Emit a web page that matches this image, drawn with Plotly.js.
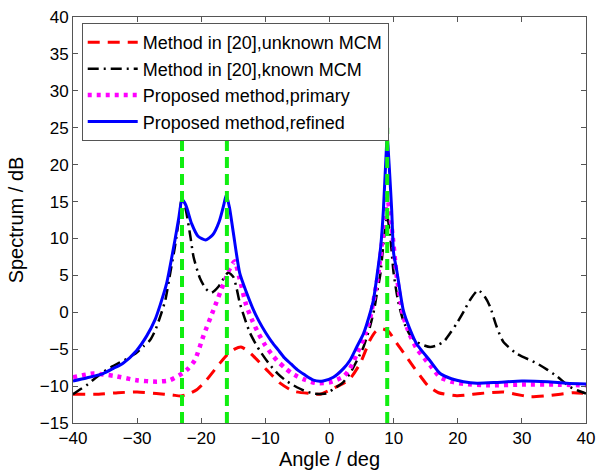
<!DOCTYPE html>
<html>
<head>
<meta charset="utf-8">
<script src="https://cdn.plot.ly/plotly-3.0.1.min.js"></script>
<style>html,body{margin:0;padding:0;background:#fff;}#chart{width:598px;height:471px;}</style>
</head>
<body>
<div id="chart"></div>
<script>
// ---- Data ----
const seriesNames = [
  "Method in [20],unknown MCM",
  "Method in [20],known MCM",
  "Proposed method,primary",
  "Proposed method,refined"
];

const unknownX = [-40,-36,-33,-30,-27,-24.5,-23.2,-21.8,-20.7,-19.2,-17.1,-16,-14.8,-13.8,-12.8,-11.9,-9.8,-7.7,-5.6,-3.0,-1.5,0.6,2.0,3.2,4.8,6.3,7.2,7.9,8.5,9.2,10.5,11.8,13.1,14.3,15.4,17,19.85,21.5,23.5,27.1,29,31.3,34,36,38,40];
const unknownY = [-11.1,-11.1,-10.9,-10.8,-11.0,-11.2,-11.35,-11.0,-10.5,-9.2,-6.9,-5.8,-5.0,-4.7,-5.2,-5.9,-7.8,-9.6,-10.7,-11.0,-11.1,-10.3,-9.7,-9.0,-6.9,-3.8,-2.6,-2.2,-2.3,-2.6,-4.2,-5.8,-7.4,-8.8,-10.0,-10.9,-11.3,-11.2,-11.0,-10.8,-11.1,-11.45,-11.3,-11.1,-10.9,-11.0];

const knownX = [-40,-38.8,-37.9,-36.5,-35.3,-34,-32.7,-31.4,-30.1,-29,-28,-27.2,-26.4,-25.6,-24.8,-24.1,-23.5,-23,-22.6,-22.3,-21.7,-21.2,-20.2,-19.3,-18.4,-17.3,-16.5,-15.8,-15,-14.5,-14,-13.2,-12.4,-11.5,-10.8,-9.5,-8.2,-6.9,-5.6,-4,-2.5,-0.5,0.6,2.0,3.2,4.3,5.3,6.3,7.0,7.4,7.9,8.5,9,9.5,10.0,10.7,11.5,12.5,13.6,14.8,15.7,16.7,17.8,19,19.85,21,21.9,23.2,24.3,25.05,26,27.1,29.2,32.3,34,35.5,37.5,39,40];
const knownY = [-11.1,-10.4,-9.9,-8.9,-8.1,-7.4,-6.8,-6.2,-5.5,-4.6,-3.8,-2.5,-0.6,1.65,5.5,8.9,12.5,15.6,14.6,13.4,10.3,7.5,4.6,3.2,2.65,3.5,4.6,5.4,4.8,3.3,1.3,-0.9,-2.8,-4.3,-5.3,-6.9,-8.2,-9.2,-9.9,-10.6,-11.0,-11.0,-10.4,-9.6,-8.3,-6.5,-4.7,-2.0,0.5,2.6,5.0,10.0,13.0,10.0,5.3,1.5,-1.1,-3.0,-4.0,-4.5,-4.7,-4.5,-4.0,-2.6,-1.5,0.2,1.65,3.0,2.0,0.75,-1.8,-4.0,-5.6,-6.9,-7.8,-8.7,-10.1,-10.7,-11.0];

const primaryX = [-40,-36.8,-33.7,-30.1,-26.9,-24.9,-23,-22,-21,-19.7,-18.1,-16.5,-15.5,-14.8,-14,-13,-12,-11,-10,-9,-8,-7,-6,-5,-4,-2,0,2.2,3.2,4.3,5.3,6.3,7.6,8.4,9,9.7,10.5,11.5,12.5,13.6,15.7,17.25,19,20.9,25,30,35,40];
const primaryY = [-8.8,-8.3,-8.6,-9.2,-9.4,-9.2,-8.3,-7.6,-6.5,-3.3,0.3,3.9,6.0,6.9,4.5,1.0,-1.2,-3.0,-4.5,-5.7,-6.7,-7.5,-8.2,-8.7,-9.1,-9.6,-9.5,-8.7,-7.6,-5.6,-3.6,-0.9,5.2,11,15.5,11.5,4.8,-0.5,-3.0,-4.9,-7.2,-8.8,-9.4,-9.7,-9.9,-9.8,-9.8,-9.9];

const refinedX = [-40,-37.9,-35.3,-33.7,-32.2,-30.1,-28.5,-27.2,-26.4,-25.4,-24.1,-23.5,-23,-22.4,-21.5,-20.5,-19.3,-18.2,-17.2,-16.5,-16.1,-15.6,-15,-14,-13,-12,-11,-10,-9,-8,-7,-6,-5,-4,-2.5,-1,0.6,2.2,3.2,4.25,5.3,6.3,6.85,7.6,8.0,8.4,8.75,9,9.3,9.7,10.0,10.5,11.5,12.5,13.6,15.7,17.25,19,20.9,23,26,30,34,37,40];
const refinedY = [-9.3,-8.9,-8.3,-7.6,-6.9,-5.2,-3.2,-1.0,1.0,3.9,9.8,12.8,15.3,14.5,12.0,10.3,9.8,10.5,12.3,14.5,15.9,14.2,10.8,5.3,2.8,0.6,-1.2,-2.7,-4.0,-5.1,-6.2,-7.0,-7.8,-8.4,-9.2,-9.3,-8.8,-7.6,-6.5,-4.7,-2.9,-0.2,1.65,6.2,9.0,13.8,20,23.7,20,13.8,8.0,5.6,0.3,-2.2,-4.3,-6.6,-8.3,-9.0,-9.4,-9.6,-9.5,-9.3,-9.4,-9.6,-9.7];

// true directions (green dashed markers) and their vertical extent
const trueDOA = [-23, -16, 9];
const trueLineSpan = [-15, 25];

// ---- Traces ----
const font = "Liberation Sans, Arial, Helvetica, sans-serif";
const traces = [
  {x: unknownX, y: unknownY, name: seriesNames[0], mode: "lines",
   line: {color: "#ff0000", width: 3, dash: "12px,8px", shape: "spline", smoothing: 0.6}},
  {x: knownX, y: knownY, name: seriesNames[1], mode: "lines",
   line: {color: "#000000", width: 2.5, dash: "11px,5px,2px,5px", shape: "spline", smoothing: 0.6}},
  {x: primaryX, y: primaryY, name: seriesNames[2], mode: "lines",
   line: {color: "#ff00ff", width: 4.5, dash: "4px,5px", shape: "spline", smoothing: 0.6}},
  {x: refinedX, y: refinedY, name: seriesNames[3], mode: "lines",
   line: {color: "#0000ff", width: 3, shape: "spline", smoothing: 0.6}}
];
trueDOA.forEach(function (d) {
  traces.push({x: [d, d], y: trueLineSpan, mode: "lines", showlegend: false,
    line: {color: "#11ee11", width: 4, dash: "11px,6px"}});
});

const axisCommon = {
  showline: true, mirror: "ticks", linecolor: "#555", linewidth: 1,
  ticks: "inside", ticklen: 5, tickcolor: "#555", showgrid: false, zeroline: false,
  tickfont: {family: font, size: 17, color: "#000"}
};

const layout = {
  width: 598, height: 471,
  margin: {l: 73, r: 12, t: 17, b: 48},
  paper_bgcolor: "#fff", plot_bgcolor: "#fff",
  font: {family: font, color: "#000"},
  showlegend: true,
  legend: {x: 0.017, y: 0.985, xanchor: "left", yanchor: "top",
    bgcolor: "#fff", bordercolor: "#555", borderwidth: 1,
    font: {family: font, size: 18, color: "#000"}, itemwidth: 50},
  xaxis: Object.assign({}, axisCommon, {range: [-40, 40], dtick: 10, tick0: -40,
    title: {text: "Angle / deg", font: {family: font, size: 20, color: "#000"}, standoff: 4}}),
  yaxis: Object.assign({}, axisCommon, {range: [-15, 40], dtick: 5, tick0: -15,
    title: {text: "Spectrum / dB", font: {family: font, size: 20, color: "#000"}, standoff: 10}})
};

Plotly.newPlot("chart", traces, layout, {staticPlot: true, displayModeBar: false});
</script>
</body>
</html>
